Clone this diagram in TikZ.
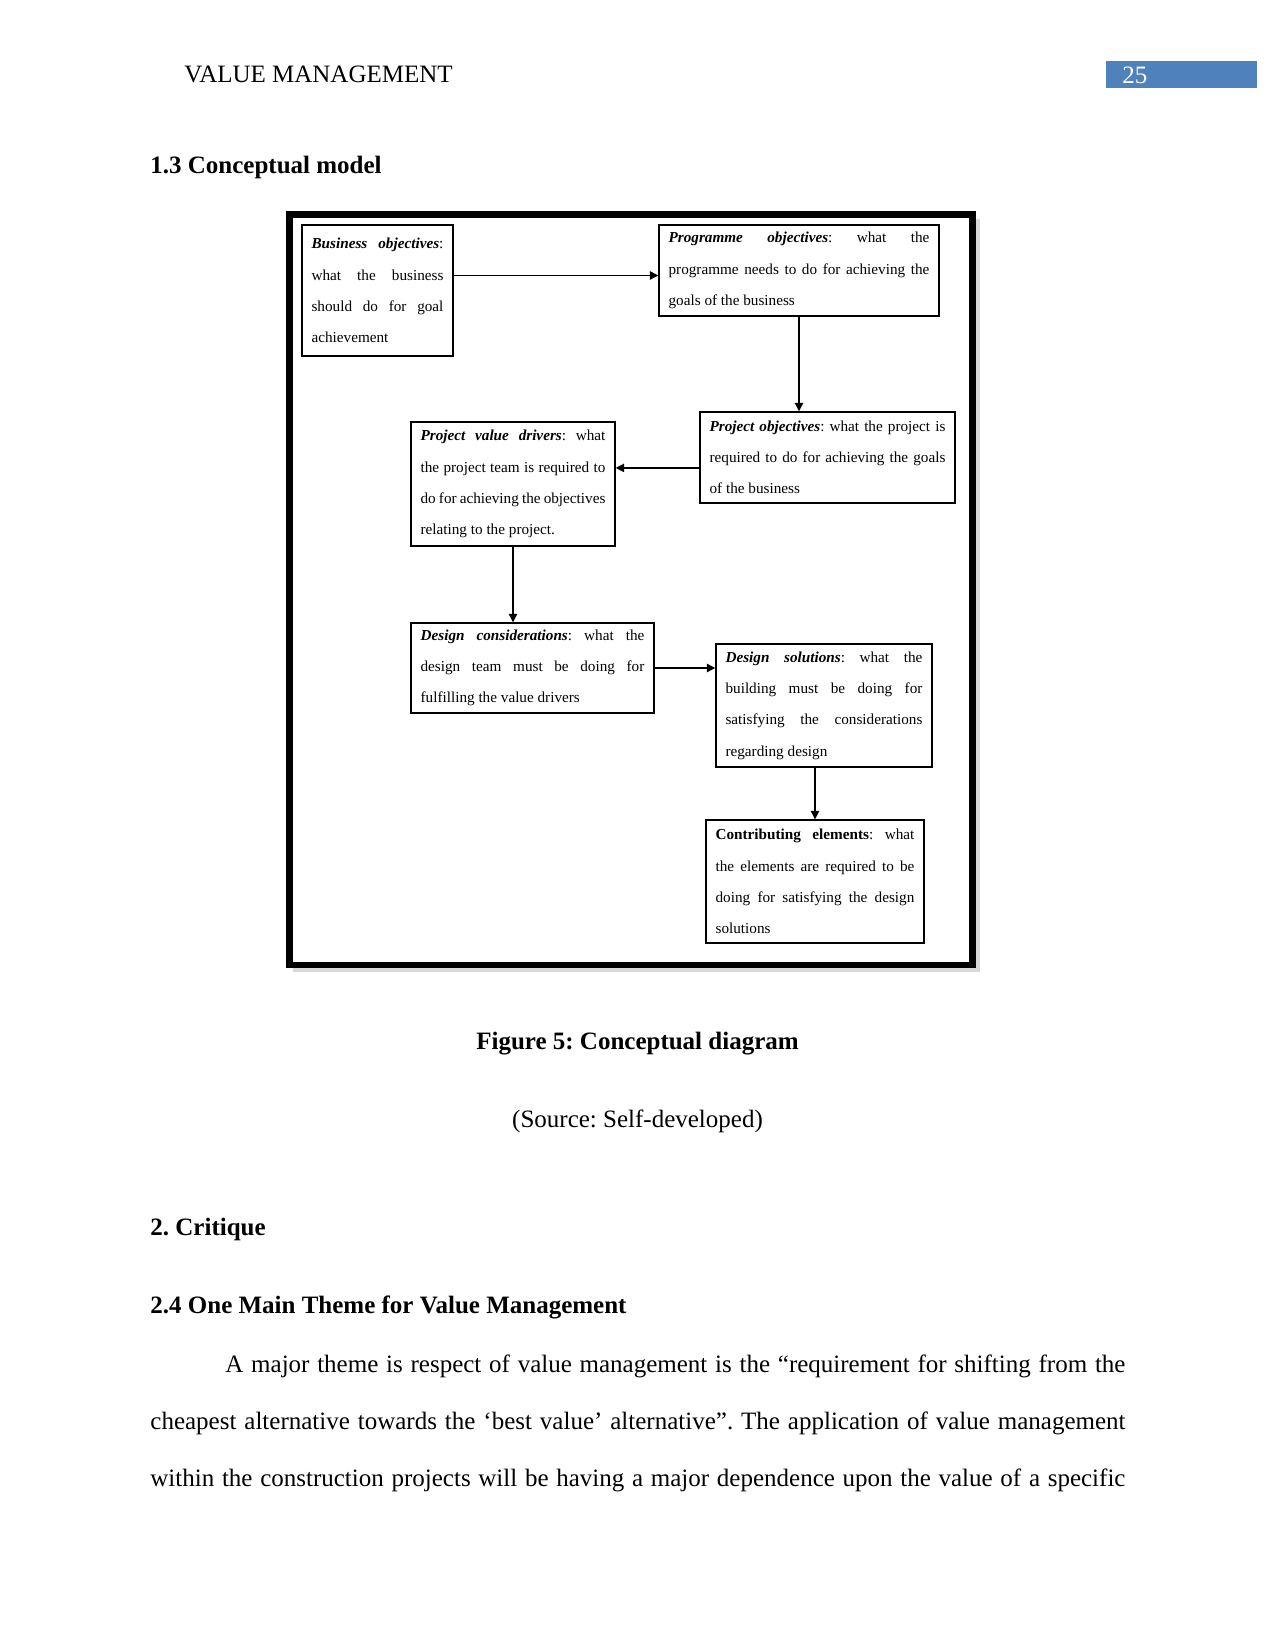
\documentclass[tikz,border=0pt]{standalone}
\usepackage{fontspec}
\setmainfont{Liberation Serif}
\usetikzlibrary{arrows.meta, calc}
\frenchspacing
\definecolor{pageblue}{RGB}{79,129,189}
\newcommand{\boxhead}[1]{\textbf{\textit{#1}}}
\newcommand{\fullline}[1]{\hbox to 468pt{#1}}
\tikzset{
    block/.style = {rectangle, draw, line width=0.7pt, align=justify, inner xsep=4.6pt, inner ysep=1pt, font=\fontsize{7.3}{15}\selectfont},
    arrow/.style = {line width=0.6pt, -{Triangle[length=4pt, width=4pt]}},
    frame/.style = {draw, line width=3.1pt, fill=white},
    bodytext/.style = {anchor=base west, inner sep=0pt, font=\fontsize{12}{14}\selectfont}
}

\begin{document}
\begin{tikzpicture}[x=0.48pt, y=-0.48pt]
        \useasboundingbox (0,0) rectangle (1275,1650);

        % Page head
        \node[bodytext] (runhead) at (184,83) {VALUE MANAGEMENT};
        \node[anchor=north west, fill=pageblue, text=white, minimum height=13pt, text width=57.1pt, inner xsep=7.7pt, inner ysep=0pt, align=left, font=\fontsize{12}{14}\selectfont] (pagenum) at (1106,61) {25};
        \node[bodytext, font=\fontsize{12}{14}\selectfont\bfseries] (sec13) at (150,174) {1.3 Conceptual model};

        % Frame
        \fill[black!15] (293,219) rectangle (980,972);
        \draw[frame] (289.5,214.5) rectangle (972.5,965);

        % Nodes
        \node[block, minimum width=72.5pt, minimum height=62.9pt, text width=63.3pt] (bus) at (377.5,290.5)
            {\boxhead{Business objectives}:\linebreak what the business\linebreak should do for goal\linebreak achievement};
        \node[block, minimum width=134.4pt, minimum height=43.7pt, text width=125.2pt] (prog) at (799,270.5)
            {\boxhead{Programme objectives}: what the\linebreak programme needs to do for achieving the\linebreak goals of the business};
        \node[block, minimum width=122.4pt, minimum height=43.7pt, text width=113.2pt] (pobj) at (827.5,457.5)
            {\boxhead{Project objectives}: what the project is\linebreak required to do for achieving the goals\linebreak of the business};
        \node[block, minimum width=97.9pt, minimum height=59.5pt, text width=88.7pt] (drv) at (513,484)
            {\boxhead{Project value drivers}: what\linebreak the project team is required to\linebreak do for achieving the objectives\linebreak relating to the project.};
        \node[block, minimum width=116.6pt, minimum height=43.2pt, text width=107.4pt] (cons) at (532.5,668)
            {\boxhead{Design considerations}: what the\linebreak design team must be doing for\linebreak fulfilling the value drivers};
        \node[block, minimum width=103.7pt, minimum height=59pt, text width=94.5pt] (sol) at (824,705.5)
            {\boxhead{Design solutions}: what the\linebreak building must be doing for\linebreak satisfying the considerations\linebreak regarding design};
        \node[block, minimum width=104.6pt, minimum height=59pt, text width=95.4pt] (contrib) at (815,881.5)
            {\textbf{Contributing elements}: what\linebreak the elements are required to be\linebreak doing for satisfying the design\linebreak solutions};

        % Edges
        \coordinate (progin) at ([yshift=-2.4pt]prog.west);
        \coordinate (pobjout) at ([yshift=-5pt]pobj.west);
        \draw[arrow] (bus.east |- progin) -- (progin);
        \draw[arrow] (prog.south) -- (prog.south |- pobj.north);
        \draw[arrow] (pobjout) -- (pobjout -| drv.east);
        \draw[arrow] (drv.south) -- (drv.south |- cons.north);
        \draw[arrow] (cons.east) -- (cons.east -| sol.west);
        \draw[arrow] (contrib.north |- sol.south) -- (contrib.north);

        % Caption and text below
        \node[bodytext, anchor=base, font=\fontsize{12}{14}\selectfont\bfseries] (caption) at (637.5,1049) {Figure 5: Conceptual diagram};
        \node[bodytext, anchor=base] (source) at (637.5,1127) {(Source: Self-developed)};
        \node[bodytext, font=\fontsize{12}{14}\selectfont\bfseries] (sec2) at (150,1235) {2. Critique};
        \node[bodytext, font=\fontsize{12}{14}\selectfont\bfseries] (sec24) at (150,1313) {2.4 One Main Theme for Value Management};
        \node[bodytext] (par1) at (150,1372) {\fullline{\hspace*{36pt}A major theme is respect of value management is the “requirement for shifting from the}};
        \node[bodytext] (par2) at (150,1429) {\fullline{cheapest alternative towards the ‘best value’ alternative”. The application of value management}};
        \node[bodytext] (par3) at (150,1486) {\fullline{within the construction projects will be having a major dependence upon the value of a specific}};

    \end{tikzpicture}
\end{document}
